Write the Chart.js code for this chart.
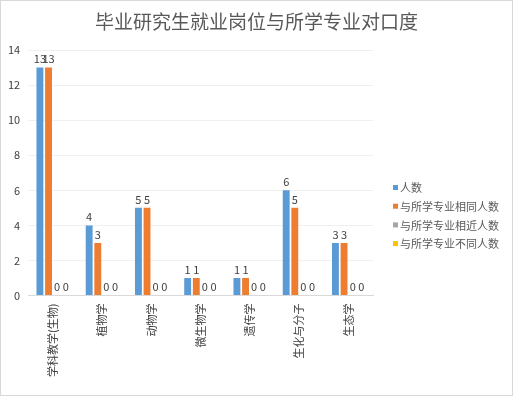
<!DOCTYPE html>
<html>
<head>
<meta charset="utf-8">
<script src="https://cdn.jsdelivr.net/npm/chart.js@4"></script>
<style>
  html, body { margin: 0; padding: 0; background: #fff; }
  #wrap { width: 513px; height: 396px; position: relative; }
</style>
</head>
<body>
<div id="wrap"><canvas id="chart"></canvas></div>
<script>
// chart data
const categories = ['学科教学(生物)', '植物学', '动物学', '微生物学', '遗传学', '生化与分子', '生态学'];
const totalCount = [13, 4, 5, 1, 1, 6, 3];
const sameCount = [13, 3, 5, 1, 1, 5, 3];
const similarCount = [0, 0, 0, 0, 0, 0, 0];
const differentCount = [0, 0, 0, 0, 0, 0, 0];
const seriesNames = ['人数', '与所学专业相同人数', '与所学专业相近人数', '与所学专业不同人数'];
const seriesColors = ['#5b9bd5', '#ed7d31', '#a5a5a5', '#ffc000'];
const yTicks = [0, 2, 4, 6, 8, 10, 12, 14];
const chartTitle = '毕业研究生就业岗位与所学专业对口度';

const FONT = '"Noto Sans CJK SC", "DejaVu Sans", sans-serif';

// white background, thin outer frame and the title centred on the whole picture
const framePlugin = {
    id: 'frame',
    beforeDraw(chart) {
        const ctx = chart.ctx;
        ctx.save();
        ctx.fillStyle = '#ffffff';
        ctx.fillRect(0, 0, chart.width, chart.height);
        ctx.strokeStyle = '#d9d9d9';
        ctx.lineWidth = 1;
        ctx.strokeRect(0.5, 0.5, chart.width - 1, chart.height - 1);
        ctx.font = '19px ' + FONT;
        ctx.fillStyle = '#595959';
        ctx.textAlign = 'center';
        ctx.textBaseline = 'middle';
        ctx.fillText(chartTitle, chart.width / 2, 22);
        ctx.restore();
    }
};

// value labels above each bar
const valueLabels = {
    id: 'valueLabels',
    afterDatasetsDraw(chart) {
        const ctx = chart.ctx;
        ctx.save();
        ctx.font = '11px ' + FONT;
        ctx.fillStyle = '#404040';
        ctx.textAlign = 'center';
        ctx.textBaseline = 'bottom';
        chart.data.datasets.forEach((ds, i) => {
            chart.getDatasetMeta(i).data.forEach((bar, j) => {
                ctx.fillText(String(ds.data[j]), bar.x, bar.y - 3);
            });
        });
        ctx.restore();
    }
};

// legend on the right, drawn by hand so it sits where the original has it
const sideLegend = {
    id: 'sideLegend',
    afterDraw(chart) {
        const ctx = chart.ctx;
        const left = chart.chartArea.right + 20;
        const rowGap = 18.7;
        const top = 188;
        ctx.save();
        ctx.font = '11px ' + FONT;
        ctx.textBaseline = 'middle';
        ctx.textAlign = 'left';
        chart.data.datasets.forEach((ds, i) => {
            const y = top + i * rowGap;
            ctx.fillStyle = ds.backgroundColor;
            ctx.fillRect(left, y - 3, 5, 5);
            ctx.fillStyle = '#595959';
            ctx.fillText(ds.label, left + 7, y);
        });
        ctx.restore();
    }
};

const datasets = [totalCount, sameCount, similarCount, differentCount].map((values, i) => ({
    label: seriesNames[i],
    data: values,
    backgroundColor: seriesColors[i],
    borderWidth: 0,
    categoryPercentage: 0.7,
    barPercentage: 0.8
}));

new Chart(document.getElementById('chart'), {
    type: 'bar',
    data: { labels: categories, datasets: datasets },
    plugins: [framePlugin, valueLabels, sideLegend],
    options: {
        responsive: true,
        maintainAspectRatio: false,
        animation: false,
        layout: { padding: { left: 0, right: 140, top: 50, bottom: 11 } },
        plugins: {
            title: { display: false },
            legend: { display: false },
            tooltip: { enabled: false }
        },
        scales: {
            x: {
                grid: { display: false, drawTicks: false },
                border: { color: '#d9d9d9' },
                ticks: {
                    autoSkip: false,
                    minRotation: 90,
                    maxRotation: 90,
                    padding: 8,
                    color: '#404040',
                    font: { family: FONT, size: 11 }
                }
            },
            y: {
                min: 0,
                max: yTicks[yTicks.length - 1],
                afterBuildTicks(axis) {
                    axis.ticks = yTicks.map(v => ({ value: v }));
                },
                grid: { color: '#f0f0f0', drawTicks: false },
                border: { display: false },
                ticks: {
                    padding: 8,
                    color: '#404040',
                    font: { family: FONT, size: 11 }
                }
            }
        }
    }
});
</script>
</body>
</html>
